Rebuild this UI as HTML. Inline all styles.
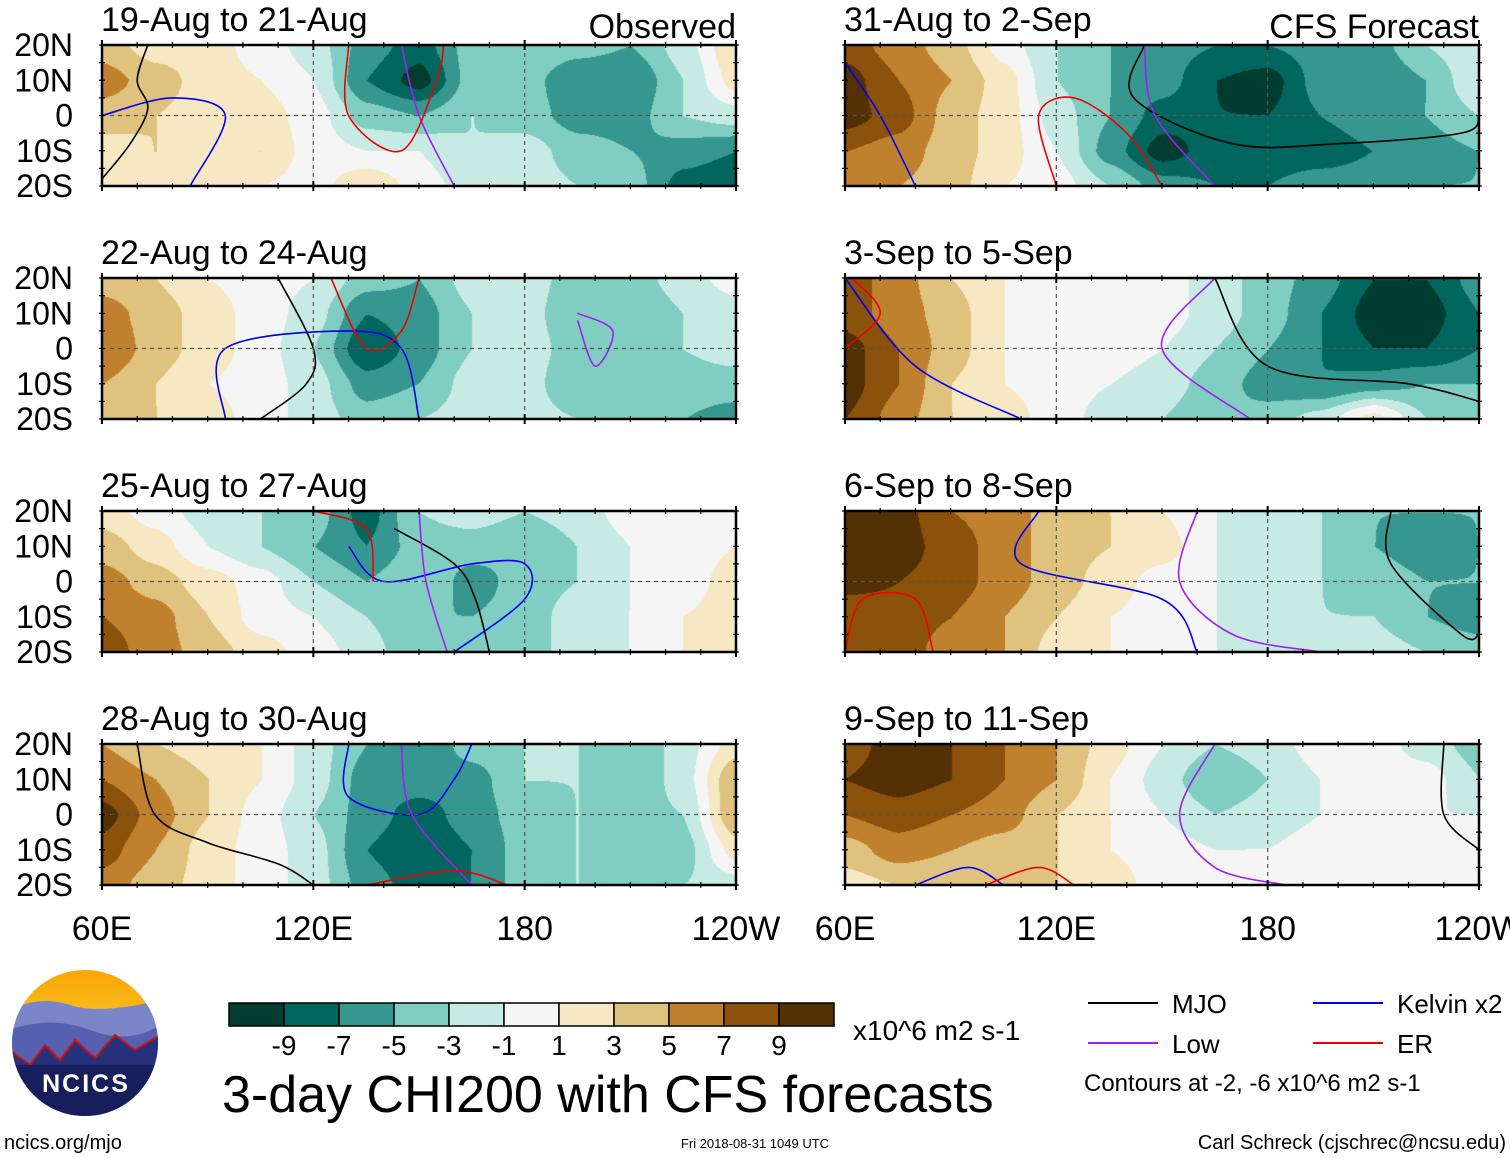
<!DOCTYPE html>
<html><head><meta charset="utf-8"><style>
body{margin:0;background:#fff;width:1510px;height:1158px;overflow:hidden;position:relative;font-family:"Liberation Sans",sans-serif}
canvas{position:absolute}
</style></head><body>
<svg id="svg" width="1510" height="1158" style="position:absolute;left:0;top:0"></svg>
<script>
const lons=[60,75,90,105,120,135,150,165,180,195,210,225,240];
const lats=[20,10,0,-10,-20];
const titles=["19-Aug to 21-Aug","22-Aug to 24-Aug","25-Aug to 27-Aug","28-Aug to 30-Aug","31-Aug to 2-Sep","3-Sep to 5-Sep","6-Sep to 8-Sep","9-Sep to 11-Sep"];
const p1=[[4,2,2,0,-2,-6,-8,-4,-3,-4,-5,-2,3],[6,4,2,1,-1,-7,-10,-4,-4,-7,-7,-3,2],[4,3,2,2,0,-4,-5,-3,-4,-6,-6,-3,-2],[2,3,2,3,0,-1,-1,-3,-2,-4,-5,-6,-7],[2,2,2,1,0,3,0,-2,-2,-3,-4,-8,-9]];
const p2=[[4,3,1,0,-1,-4,-5,-2,-2,-4,-4,-2,0],[6,4,2,0,-2,-7,-6,-3,-2,-5,-5,-3,-2],[7,4,2,0,-3,-9,-6,-3,-2,-4,-5,-3,-2],[5,3,1,0,-2,-6,-5,-2,-2,-5,-5,-4,-4],[5,3,2,0,-2,-4,-3,-2,-2,-3,-4,-5,-6]];
const p3=[[2,0,-2,-3,-4,-8,-3,-2,-3,-2,0,0,0],[4,2,-1,-3,-5,-7,-4,-4,-5,-3,-1,0,1],[6,4,2,0,-3,-5,-3,-6,-4,-3,-1,0,2],[7,6,3,0,-1,-3,-5,-5,-4,-2,-1,1,2],[8,6,4,2,0,-2,-5,-5,-4,-2,-1,1,1]];
const p4=[[5,3,2,1,-2,-5,-7,-4,-3,-3,-5,-2,2],[7,5,3,1,-2,-6,-6,-6,-3,-3,-5,-2,5],[10,6,3,0,-3,-6,-8,-6,-4,-3,-4,-3,5],[8,5,2,0,-2,-7,-9,-7,-4,-3,-5,-4,2],[6,4,2,0,-2,-6,-8,-7,-4,-3,-5,-3,-2]];
const p5=[[8,6,4,0,-3,-5,-6,-7,-7,-6,-6,-3,-1],[10,7,5,2,-3,-5,-6,-9,-10,-6,-7,-5,-1],[10,8,4,2,-2,-5,-8,-9,-9,-7,-6,-5,-3],[7,6,4,2,-1,-6,-10,-8,-8,-8,-7,-6,-5],[6,5,4,1,0,-3,-6,-7,-7,-6,-6,-5,-5]];
const p6=[[8,6,3,1,0,0,0,-2,-4,-6,-9,-9,-6],[8,6,4,1,-1,-1,0,-2,-4,-7,-10,-10,-7],[10,7,4,1,-1,0,-1,-3,-5,-7,-9,-9,-7],[10,7,3,1,0,-1,-2,-4,-6,-7,-6,-5,-5],[9,6,3,2,0,-2,-3,-5,-4,-2,2,-3,-5]];
const p7=[[10,10,7,6,4,3,1,-1,-2,-3,-5,-5,-5],[10,10,8,6,4,3,2,-1,-2,-3,-5,-6,-5],[10,9,8,6,4,2,0,-1,-2,-3,-4,-5,-5],[7,8,7,5,3,1,0,-1,-2,-3,-3,-5,-6],[8,8,6,5,2,1,0,-1,-2,-2,-2,-3,-4]];
const p8=[[8,10,9,7,5,2,-1,-3,-2,0,0,-2,-4],[9,10,9,7,5,1,-2,-5,-3,-1,0,0,-3],[7,8,7,6,3,1,-1,-3,-2,-1,0,-1,-1],[4,6,5,4,3,1,0,-1,-1,0,0,0,0],[2,3,3,3,3,2,0,0,0,0,0,1,0]];
const fields=[p1,p2,p3,p4,p5,p6,p7,p8];
const mjoLines=[[0,[73,20,70,10,73,2,68,-8,60,-18]],[1,[110,20,120,0,118,-10,105,-20]],[2,[143,15,160,5,166,-5,170,-20]],[3,[70,20,75,0,90,-8,110,-14,120,-20]],[4,[145,20,142,5,170,-8,200,-8,235,-5,240,0]],[5,[165,20,180,-5,220,-10,240,-15]],[6,[215,20,215,5,235,-15,240,-15]],[7,[230,20,230,0,240,-10]]];
const kelvinLines=[[0,[60,0,80,5,95,0,85,-20]],[1,[95,-20,95,0,130,5,145,0,150,-20]],[2,[130,10,140,0,165,5,180,5,180,-5,160,-20]],[3,[130,20,130,5,150,0,160,10,165,20]],[4,[60,15,70,0,80,-20]],[5,[60,20,80,-5,110,-20]],[6,[115,20,110,5,150,-5,160,-20]],[7,[80,-20,95,-15,105,-20]]];
const lowLines=[[0,[145,20,150,0,160,-20]],[1,[195,10,205,5,200,-5,195,8]],[2,[150,20,152,0,158,-20]],[3,[145,20,148,0,165,-20]],[4,[145,20,148,0,165,-20]],[5,[165,20,150,0,175,-20]],[6,[160,20,155,0,170,-15,195,-20]],[7,[165,20,155,0,165,-15,185,-20]]];
const erLines=[[0,[130,20,130,0,145,-10,155,10,157,20]],[1,[125,20,135,0,145,5,150,20]],[2,[120,20,135,15,137,0]],[3,[135,-20,160,-16,175,-20]],[4,[120,-20,115,0,125,5,140,-5,150,-20]],[5,[60,0,70,10,62,20]],[6,[60,-20,65,-5,80,-5,85,-20]],[7,[100,-20,115,-15,125,-20]]];
const cbLabels=["-9","-7","-5","-3","-1","1","3","5","7","9"];
const levColors=["#003c30","#01665e","#35978f","#80cdc1","#c7eae5","#f5f5f5","#f6e8c3","#dfc27d","#bf812d","#8c510a","#543005"];
const cbBounds=[-9,-7,-5,-3,-1,1,3,5,7,9];
</script>
<script>
const W=634,H=141;
const tops=[45,278,511,744], lefts=[102,845];
const svg=document.getElementById('svg');
const NS="http://www.w3.org/2000/svg";
const FF='"Liberation Sans",sans-serif';
function mk(tag,attrs,parent){const e=document.createElementNS(NS,tag);for(const k in attrs)e.setAttribute(k,attrs[k]);(parent||svg).appendChild(e);return e;}
function lev(v){let i=0;while(i<cbBounds.length&&v>cbBounds[i])i++;return i;}
function hex(c){return [parseInt(c.substr(1,2),16),parseInt(c.substr(3,2),16),parseInt(c.substr(5,2),16)];}
const rgb=levColors.map(hex);
function sample(f,lon,lat){
  let fx=(lon-60)/15, fy=(20-lat)/10;
  fx=Math.max(0,Math.min(12-1e-6,fx)); fy=Math.max(0,Math.min(4-1e-6,fy));
  const i=Math.floor(fx),j=Math.floor(fy),a=fx-i,b=fy-j;
  const s=t=>t*t*(3-2*t); const A=s(a)*0.6+a*0.4,B=s(b)*0.6+b*0.4;
  return f[j][i]*(1-A)*(1-B)+f[j][i+1]*A*(1-B)+f[j+1][i]*(1-A)*B+f[j+1][i+1]*A*B;
}
function smoothPath(pts){
  if(pts.length<3)return 'M'+pts[0]+'L'+pts[1];
  let d='M'+pts[0][0].toFixed(1)+','+pts[0][1].toFixed(1);
  for(let i=0;i<pts.length-1;i++){
    const p0=pts[i-1]||pts[i],p1=pts[i],p2=pts[i+1],p3=pts[i+2]||p2;
    const c1=[p1[0]+(p2[0]-p0[0])/6,p1[1]+(p2[1]-p0[1])/6],c2=[p2[0]-(p3[0]-p1[0])/6,p2[1]-(p3[1]-p1[1])/6];
    d+='C'+c1.map(v=>v.toFixed(1))+' '+c2.map(v=>v.toFixed(1))+' '+p2.map(v=>v.toFixed(1));
  }
  return d;
}
fields.forEach((f,p)=>{
  const col=p<4?0:1,row=p%4, x0=lefts[col], y0=tops[row];
  const cv=document.createElement('canvas');cv.width=W;cv.height=H;
  cv.style.left=x0+'px';cv.style.top=y0+'px';
  
  
  document.body.insertBefore(cv,svg);
  const ctx=cv.getContext('2d');const im=ctx.createImageData(W,H);
  for(let y=0;y<H;y++)for(let x=0;x<W;x++){
    const v=sample(f,60+x/W*180,20-y/H*40)+0.013;const c=rgb[lev(v)];const k=(y*W+x)*4;
    im.data[k]=c[0];im.data[k+1]=c[1];im.data[k+2]=c[2];im.data[k+3]=255;}
  ctx.putImageData(im,0,0);
  const X=lon=>x0+(lon-60)/180*W, Y=lat=>y0+(20-lat)/40*H;
  const g=mk('g',{});
  
  
  const draw=(arr,color,name)=>arr.filter(a=>a[0]===p).forEach(a=>{
    const pts=a[1];const q=[];for(let i=0;i<pts.length;i+=2)q.push([X(pts[i]),Y(pts[i+1])]);
    const e=mk('path',{d:smoothPath(q),fill:'none',stroke:color,'stroke-width':1.6,'stroke-linejoin':'round'},g);
    
    
  });
  draw(mjoLines,'#000','mjo-contour');draw(kelvinLines,'#0000ee','kelvin-contour');draw(lowLines,'#a020f0','low-contour');draw(erLines,'#ee0000','er-contour');
  mk('line',{x1:x0,x2:x0+W,y1:Y(0),y2:Y(0),stroke:'#555','stroke-dasharray':'4,4','stroke-width':1.2},g);
  [120,180].forEach(l=>mk('line',{x1:X(l),x2:X(l),y1:y0,y2:y0+H,stroke:'#555','stroke-dasharray':'4,4','stroke-width':1.2},g));
  mk('rect',{x:x0,y:y0,width:W,height:H,fill:'none',stroke:'#000','stroke-width':2.5},g);
  for(let l=60;l<=240;l+=10){const big=(l%60===0);const len=big?5:3;
    mk('line',{x1:X(l),x2:X(l),y1:y0-len,y2:y0+len,stroke:'#000','stroke-width':big?2:1.2},g);
    mk('line',{x1:X(l),x2:X(l),y1:y0+H-len,y2:y0+H+len,stroke:'#000','stroke-width':big?2:1.2},g);}
  for(let la=-20;la<=20;la+=5){[x0,x0+W].forEach(xx=>mk('line',{x1:xx-3,x2:xx+3,y1:Y(la),y2:Y(la),stroke:'#000','stroke-width':1.2},g));}
  const t=mk('text',{x:x0-1,y:y0-14,'font-size':34,'font-family':FF},g);t.textContent=titles[p];
  
  
  if(col===0){['20N','10N','0','10S','20S'].forEach((s,i)=>{const e=mk('text',{x:73,y:y0+i*H/4+11,'text-anchor':'end','font-size':32,'font-family':FF});e.textContent=s;
    
    });}
});
[[0,'Observed'],[1,'CFS Forecast']].forEach(([c,s])=>{const e=mk('text',{x:lefts[c]+W,y:38,'text-anchor':'end','font-size':34,'font-family':FF});e.textContent=s;
  
  });
lefts.forEach(x0=>['60E','120E','180','120W'].forEach((s,i)=>{const e=mk('text',{x:x0+i*W/3,y:940,'text-anchor':'middle','font-size':34,'font-family':FF});e.textContent=s;
  
  }));
const cb=mk('g',{});
levColors.forEach((c,i)=>mk('rect',{x:229+i*55,y:1003,width:55,height:23,fill:c,stroke:'#000','stroke-width':1.5},cb));
cbLabels.forEach((s,i)=>{const e=mk('text',{x:284+i*55,y:1055,'text-anchor':'middle','font-size':28,'font-family':FF},cb);e.textContent=s;
  
  });
function txt(s,x,y,size,name,anchor){const e=mk('text',{x:x,y:y,'font-size':size,'font-family':FF,'text-anchor':anchor||'start'});e.textContent=s;
  
  return e;}
txt('x10^6 m2 s-1',853,1040,28,'colorbar-units');
txt('3-day CHI200 with CFS forecasts',222,1112,52,'main-title');
[['MJO','#000',1088,1003],['Kelvin x2','#0000ee',1313,1003],['Low','#a020f0',1088,1043],['ER','#ee0000',1313,1043]].forEach(([s,c,x,y])=>{
  const l=mk('line',{x1:x,x2:x+70,y1:y,y2:y,stroke:c,'stroke-width':2});
  
  
  txt(s,x+84,y+10,26,'legend-entry');});
txt('Contours at -2, -6 x10^6 m2 s-1',1084,1091,24,'contour-note');
txt('ncics.org/mjo',4,1149,20,'footer-url');
txt('Fri 2018-08-31 1049 UTC',755,1148,13,'footer-date','middle');
txt('Carl Schreck (cjschrec@ncsu.edu)',1506,1149,20,'footer-author','end');
const lg=mk('g',{});
mk('defs',{},lg).innerHTML='<clipPath id="cl"><circle cx="85" cy="1043" r="73"/></clipPath><linearGradient id="sky" x1="0" y1="0" x2="0" y2="1"><stop offset="0" stop-color="#f7a600"/><stop offset="1" stop-color="#ffe46a"/></linearGradient>';
const cg=mk('g',{'clip-path':'url(#cl)'},lg);
mk('rect',{x:10,y:968,width:150,height:150,fill:'url(#sky)'},cg);
mk('path',{d:'M10,1010 Q40,995 70,1005 T160,1000 L160,1118 L10,1118Z',fill:'#7a86c8'},cg);
mk('path',{d:'M10,1030 Q50,1015 90,1030 T160,1025 L160,1118 L10,1118Z',fill:'#5560b0'},cg);
mk('path',{d:'M10,1050 L30,1065 L45,1045 L60,1060 L75,1040 L95,1058 L115,1035 L135,1050 L160,1035 L160,1118 L10,1118Z',fill:'#27307a',stroke:'#d01010','stroke-width':2},cg);
mk('rect',{x:10,y:1065,width:150,height:60,fill:'#161f5c'},cg);
const nt=mk('text',{x:86,y:1092,'text-anchor':'middle','font-size':25,'font-weight':'bold','fill':'#fff','font-family':FF,'letter-spacing':'2'},lg);nt.textContent='NCICS';


</script>
</body></html>
